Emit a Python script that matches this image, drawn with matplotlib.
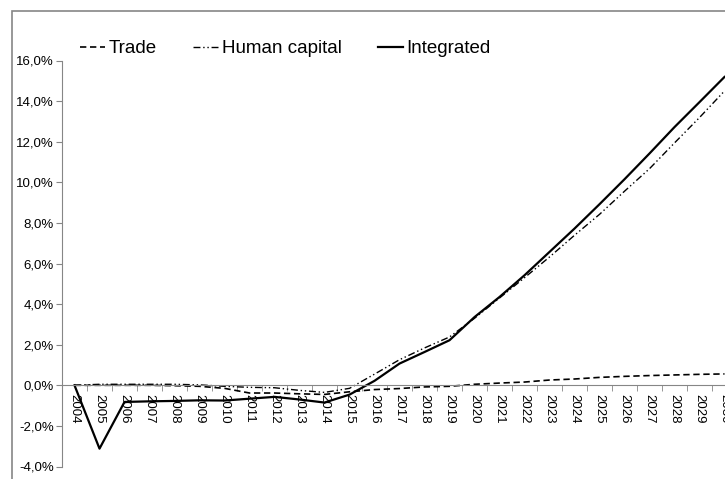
import numpy as np
import matplotlib
matplotlib.use("Agg")
import matplotlib.pyplot as plt
from matplotlib.patches import Rectangle
from matplotlib.ticker import FuncFormatter

# data (share)
years = [str(y) for y in range(2004, 2031)]
trade = [0.0, 0.0, 0.0, 0.0, -0.02, -0.05, -0.15, -0.38, -0.38, -0.42, -0.45, -0.32,
         -0.21, -0.16, -0.08, -0.05, 0.05, 0.11, 0.16, 0.26, 0.31, 0.39, 0.44, 0.48,
         0.51, 0.54, 0.56]
human_capital = [0.0, 0.05, 0.05, 0.05, 0.05, 0.02, -0.05, -0.1, -0.12, -0.25, -0.35, -0.15,
                 0.55, 1.26, 1.84, 2.38, 3.3, 4.3, 5.3, 6.32, 7.39, 8.42, 9.56, 10.67,
                 11.94, 13.19, 14.5]
integrated = [0.0, -3.12, -0.82, -0.79, -0.77, -0.74, -0.75, -0.66, -0.57, -0.70, -0.85, -0.46,
              0.22, 1.07, 1.64, 2.22, 3.36, 4.35, 5.42, 6.57, 7.72, 8.92, 10.15, 11.42,
              12.72, 13.95, 15.19]
labels = ['Trade', 'Human capital', 'Integrated']

plt.rcParams['font.family'] = ['Liberation Sans', 'DejaVu Sans']
gray = '#868686'

fig = plt.figure(figsize=(7.25, 4.79), dpi=100)
ax = fig.add_axes([62/725, 12.5/479, 675/725, 406/479])

x = np.arange(len(years))
ax.plot(x, np.array(trade)/100, color='black', lw=1.2, linestyle=(0, (3.8, 2.2)), label=labels[0])
ax.plot(x, np.array(human_capital)/100, color='black', lw=1.0,
        linestyle=(0, (5, 2, 1, 2, 1, 2)), label=labels[1])
ax.plot(x, np.array(integrated)/100, color='black', lw=1.6, label=labels[2])

ax.set_xlim(-0.5, len(years) - 0.5)
ax.set_ylim(-0.04, 0.16)
ax.set_yticks(np.arange(-0.04, 0.161, 0.02))
ax.yaxis.set_major_formatter(FuncFormatter(lambda v, p: ('%.1f%%' % (v*100)).replace('.', ',').replace('-0,0', '0,0')))

for s in ['top', 'right']:
    ax.spines[s].set_visible(False)
ax.spines['left'].set_color(gray)
ax.spines['bottom'].set_color(gray)
ax.spines['bottom'].set_position(('data', 0))

ax.set_xticks(x)
ax.set_xticklabels(years, rotation=270, fontsize=9.5)
ax.set_xticks(np.arange(-0.5, len(years)), minor=True)
ax.tick_params(axis='x', which='major', length=0, pad=6)
ax.tick_params(axis='x', which='minor', length=4, color=gray, direction='out')
ax.tick_params(axis='y', length=4, color=gray, labelsize=9.5, pad=2)

leg = ax.legend(loc='upper left', bbox_to_anchor=(1/675, 1.092), ncol=3, frameon=False,
                handlelength=1.35, handletextpad=0.17, columnspacing=1.95,
                prop={'size': 13.5})

# outer chart frame
fig.patches.append(Rectangle((12/725, -0.1), 2, (479-11)/479 + 0.1, transform=fig.transFigure,
                             fill=False, edgecolor=gray, lw=1.2, clip_on=False))

fig.savefig('out.png', dpi=100)
